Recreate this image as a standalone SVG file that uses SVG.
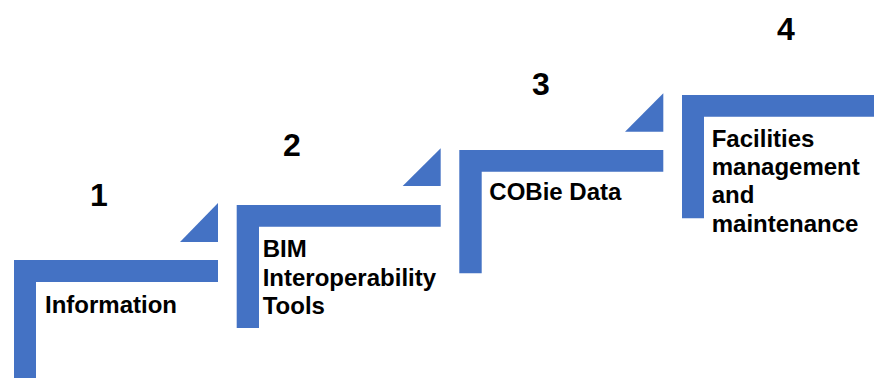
<svg xmlns="http://www.w3.org/2000/svg" width="874" height="378" viewBox="0 0 874 378">
<style>
.step{fill:#4472C4;}
.lbl{font-family:"Liberation Sans",Arial,sans-serif;font-weight:bold;font-size:24px;fill:#000;}
.num{font-family:"Liberation Sans",Arial,sans-serif;font-weight:bold;font-size:32px;fill:#000;text-anchor:middle;}
</style>
<rect width="874" height="378" fill="#fff"/>
<g id="step1">
<path class="step" d="M14,260 H218 V282 H36 V383 H14 Z"/>
<polygon class="step" points="180,242 218,242 218,203"/>
<text class="num" x="99" y="206">1</text>
<text class="lbl" x="45" y="313">Information</text>
</g>
<g id="step2">
<path class="step" d="M236.7,205 H440.7 V226.7 H259 V328 H236.7 Z"/>
<polygon class="step" points="402.7,186 440.7,186 440.7,148.3"/>
<text class="num" x="292" y="156">2</text>
<text class="lbl" x="262.7" y="257.3">BIM</text>
<text class="lbl" x="262.7" y="285.7">Interoperability</text>
<text class="lbl" x="262.7" y="314">Tools</text>
</g>
<g id="step3">
<path class="step" d="M459.3,150 H663.3 V171.7 H481.7 V273.3 H459.3 Z"/>
<polygon class="step" points="625,131.7 663.3,131.7 663.3,93.3"/>
<text class="num" x="541" y="95">3</text>
<text class="lbl" x="489.3" y="200">COBie Data</text>
</g>
<g id="step4">
<path class="step" d="M682,95 H886 V116.7 H704 V218.3 H682 Z"/>
<text class="num" x="786" y="40">4</text>
<text class="lbl" x="711.7" y="146.7">Facilities</text>
<text class="lbl" x="711.7" y="175">management</text>
<text class="lbl" x="711.7" y="203.3">and</text>
<text class="lbl" x="711.7" y="231.7">maintenance</text>
</g>
<g id="connectors"></g>
</svg>
